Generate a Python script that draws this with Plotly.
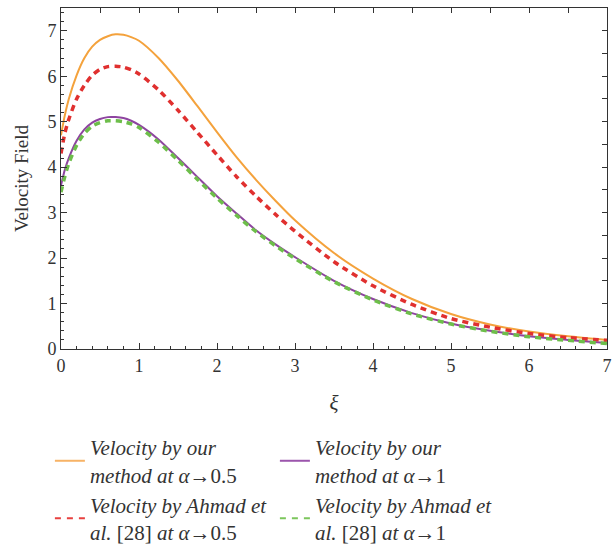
import plotly.graph_objects as go

xi = [0, 0.05, 0.1, 0.2, 0.3, 0.4, 0.5, 0.6, 0.7, 0.8, 0.9, 1.0, 1.25, 1.5, 1.75,
      2.0, 2.25, 2.5, 2.75, 3.0, 3.5, 4.0, 4.5, 5.0, 5.5, 6.0, 6.5, 7.0]

ours_05 = [4.70, 5.15, 5.50, 6.02, 6.40, 6.65, 6.80, 6.88, 6.92, 6.91, 6.86, 6.78, 6.40, 5.90, 5.34,
           4.77, 4.22, 3.72, 3.26, 2.83, 2.11, 1.55, 1.10, 0.77, 0.54, 0.385, 0.28, 0.20]
ahmad_05 = [4.30, 4.75, 5.05, 5.50, 5.80, 6.02, 6.15, 6.21, 6.22, 6.20, 6.14, 6.05, 5.70, 5.25, 4.76,
            4.27, 3.79, 3.36, 2.96, 2.59, 1.92, 1.39, 0.98, 0.67, 0.48, 0.34, 0.25, 0.19]
ours_1 = [3.60, 3.95, 4.20, 4.58, 4.83, 4.98, 5.06, 5.10, 5.10, 5.08, 5.02, 4.93, 4.61, 4.20, 3.78,
          3.36, 2.98, 2.61, 2.30, 2.02, 1.50, 1.10, 0.79, 0.56, 0.40, 0.28, 0.20, 0.13]
ahmad_1 = [3.45, 3.80, 4.08, 4.48, 4.74, 4.90, 4.98, 5.02, 5.02, 5.00, 4.95, 4.87, 4.55, 4.15, 3.73,
           3.32, 2.94, 2.58, 2.27, 1.99, 1.48, 1.08, 0.77, 0.55, 0.39, 0.27, 0.19, 0.12]

# legend order is row-wise: orange, purple / red, green
names = [
    "<i>Velocity by our</i><br><i>method at α</i>→0.5",
    "<i>Velocity by our</i><br><i>method at α</i>→1",
    "<i>Velocity by Ahmad et</i><br><i>al.</i> [28] <i>at α</i>→0.5",
    "<i>Velocity by Ahmad et</i><br><i>al.</i> [28] <i>at α</i>→1",
]
series = [ours_05, ours_1, ahmad_05, ahmad_1]
colors = ["#F4A23C", "#8E44A0", "#E0302F", "#6DBE4A"]
legend_colors = ["#F7B366", "#9B55AC", "#E8403F", "#7CC65C"]
dashes = ["solid", "solid", "6px,5px", "6px,5px"]
legend_dashes = ["solid", "solid", "6px,6px", "6px,6px"]
widths = [2, 2, 3.5, 3.5]

fig = go.Figure()
for i, (name, y, c, d, w) in enumerate(zip(names, series, colors, dashes, widths)):
    fig.add_trace(go.Scatter(x=xi, y=y, mode="lines", name=name, legendgroup=f"g{i}",
                             showlegend=False,
                             line=dict(color=c, dash=d, width=w, shape="spline", smoothing=0.7)))
for i, (name, lc, ld) in enumerate(zip(names, legend_colors, legend_dashes)):
    fig.add_trace(go.Scatter(x=[None], y=[None], mode="lines", name=name, legendgroup=f"g{i}",
                             line=dict(color=lc, dash=ld, width=2)))

# invisible trace for top/right frame axes
fig.add_trace(go.Scatter(x=[0], y=[0], xaxis="x2", yaxis="y2", mode="markers",
                         marker=dict(opacity=0), showlegend=False, hoverinfo="skip"))

font_fam = "Liberation Serif"
axcol = "#333333"

fig.update_layout(
    width=616, height=546,
    margin=dict(l=61, r=4, t=8, b=197),
    plot_bgcolor="white", paper_bgcolor="white",
    font=dict(family=font_fam, size=18, color="#333333"),
    xaxis=dict(range=[0, 7], dtick=1, ticks="inside", ticklen=6, tickcolor=axcol,
               showline=True, linecolor=axcol, linewidth=1, showgrid=False, zeroline=False,
               minor=dict(dtick=0.2, ticks="inside", ticklen=3, tickcolor=axcol),
               title=dict(text="<i>ξ</i>", font=dict(size=21), standoff=20),
               tickfont=dict(size=18), ticklabeloverflow="allow"),
    yaxis=dict(range=[0, 7.5], dtick=1, ticks="inside", ticklen=6, tickcolor=axcol,
               showline=True, linecolor=axcol, linewidth=1, showgrid=False, zeroline=False,
               minor=dict(dtick=0.2, ticks="inside", ticklen=3, tickcolor=axcol),
               title=dict(text="Velocity Field", font=dict(size=19), standoff=13),
               tickfont=dict(size=18)),
    xaxis2=dict(range=[0, 7], dtick=0.5, ticks="inside", ticklen=5, tickcolor=axcol,
                overlaying="x", side="top", showticklabels=False, showline=True,
                linecolor=axcol, linewidth=1, showgrid=False, zeroline=False),
    yaxis2=dict(range=[0, 7.5], dtick=0.5, ticks="inside", ticklen=5, tickcolor=axcol,
                overlaying="y", side="right", showticklabels=False, showline=True,
                linecolor=axcol, linewidth=1, showgrid=False, zeroline=False),
    legend=dict(orientation="h", xref="container", x=0.081, xanchor="left",
                yref="container", y=0.218, yanchor="top",
                entrywidth=180, entrywidthmode="pixels",
                font=dict(family=font_fam, size=21, color="#333333"),
                tracegroupgap=0, itemwidth=30),
    showlegend=True,
)

fig.write_html("out.html")
